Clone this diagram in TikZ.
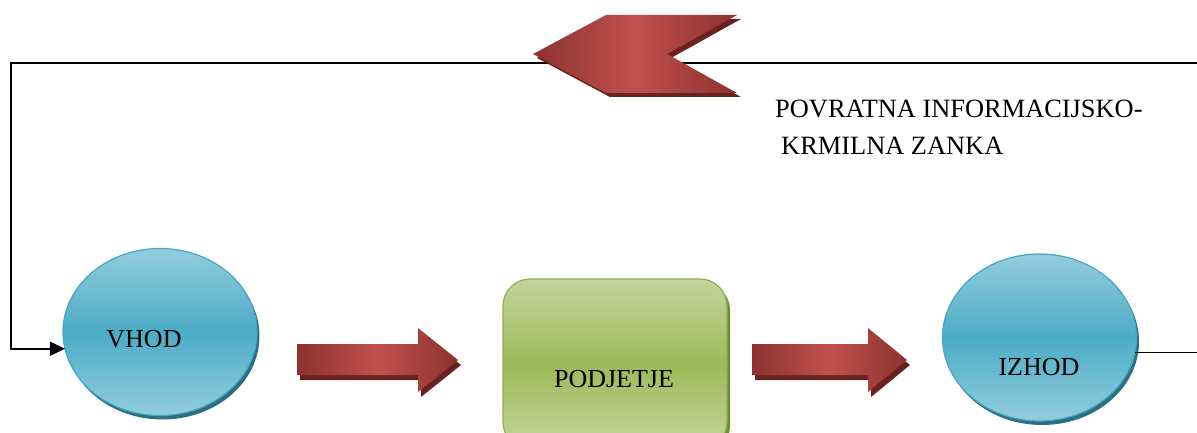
\documentclass[tikz,border=0pt]{standalone}
\usepackage{fontspec}
\setmainfont{Liberation Serif}
\usetikzlibrary{arrows.meta,shapes.geometric}

\definecolor{blueLight}{HTML}{93CDDD}
\definecolor{blueMid}{HTML}{4BACC6}
\definecolor{blueEdge}{HTML}{46A6C1}
\definecolor{blueShadow}{HTML}{2C6F82}
\definecolor{greenLight}{HTML}{C3D69B}
\definecolor{greenMid}{HTML}{9BBB59}
\definecolor{greenEdge}{HTML}{8DB04E}
\definecolor{greenShadow}{HTML}{6B8C33}
\definecolor{redLight}{HTML}{C0504D}
\definecolor{redDark}{HTML}{8C3230}
\definecolor{redShadow}{HTML}{6A2220}

\tikzset{
  lbl/.style={font=\fontsize{26}{31}\selectfont, inner sep=0pt, text=black},
  caption/.style={font=\fontsize{26.4}{31}\selectfont, inner sep=0pt, text=black},
  orbshape/.style={ellipse, minimum width=194pt, minimum height=167pt, inner sep=0pt, outer sep=0pt},
  orb/.style={orbshape, draw=blueEdge, line width=1.2pt,
    top color=blueLight, bottom color=blueLight, middle color=blueMid},
  orbshadow/.style={orbshape, fill=blueShadow},
  firmshape/.style={rectangle, rounded corners=27pt, minimum width=224pt, minimum height=170pt, inner sep=0pt, outer sep=0pt},
  firm/.style={firmshape, draw=greenEdge, line width=1.2pt,
    top color=greenLight, bottom color=greenLight, middle color=greenMid},
  firmshadow/.style={firmshape, fill=greenShadow},
  redbody/.style={left color=redDark, right color=redDark, middle color=redLight},
  redshade/.style={fill=redShadow},
  loopline/.style={draw=black, line width=1.6pt,
    -{Triangle[length=15pt,width=14pt]}},
}

\begin{document}
\begin{tikzpicture}[x=1pt,y=1pt]
\useasboundingbox (0,0) rectangle (1197,432);
\clip (0,0) rectangle (1197,432);

% input and output ellipses with their drop shadows
\node[orbshadow] (vhodsh) at (162.5,96) {};
\node[orb] (vhod) at (160,100) {};
\node[orbshadow] (izhodsh) at (1042,90.5) {};
\node[orb] (izhod) at (1039.5,94.5) {};

% the company box
\node[firmshadow] (podjetjesh) at (618,64) {};
\node[firm] (podjetje) at (615,68) {};

% labels inside the shapes
\node[lbl, anchor=base] (vhodtxt) at (144,85) {VHOD};
\node[lbl, anchor=base] (izhodtxt) at (1039,57) {IZHOD};
\node[lbl, anchor=base] (podjetjetxt) at (614,45) {PODJETJE};

% feedback loop from output back to input
\coordinate (loopR) at (1215,369);
\coordinate (loopL) at (11,369);
\draw[loopline] (izhod.-9) -| (loopR) -- (loopL) |- (vhod.-170.5);

% flow arrows between the stages
\fill[redshade, shift={(3,-5)}] (297,88) -- (418,88) -- (418,104) -- (458,72) -- (418,40) -- (418,57) -- (297,57) -- cycle;
\shade[redbody] (297,88) -- (418,88) -- (418,104) -- (458,72) -- (418,40) -- (418,57) -- (297,57) -- cycle;
\fill[redshade, shift={(3,-5)}] (752,88) -- (868,88) -- (868,104) -- (907,72) -- (868,40) -- (868,57) -- (752,57) -- cycle;
\shade[redbody] (752,88) -- (868,88) -- (868,104) -- (907,72) -- (868,40) -- (868,57) -- (752,57) -- cycle;

% chevron on the feedback line
\fill[redshade, shift={(4,-4)}] (533,378) -- (606,417) -- (737,417) -- (667,378) -- (737,339) -- (606,339) -- cycle;
\shade[redbody] (533,378) -- (606,417) -- (737,417) -- (667,378) -- (737,339) -- (606,339) -- cycle;

% caption of the loop
\node[caption, anchor=base west] (looptxtA) at (775,314) {POVRATNA INFORMACIJSKO-};
\node[caption, anchor=base west] (looptxtB) at (781,277) {KRMILNA ZANKA};
\end{tikzpicture}
\end{document}
